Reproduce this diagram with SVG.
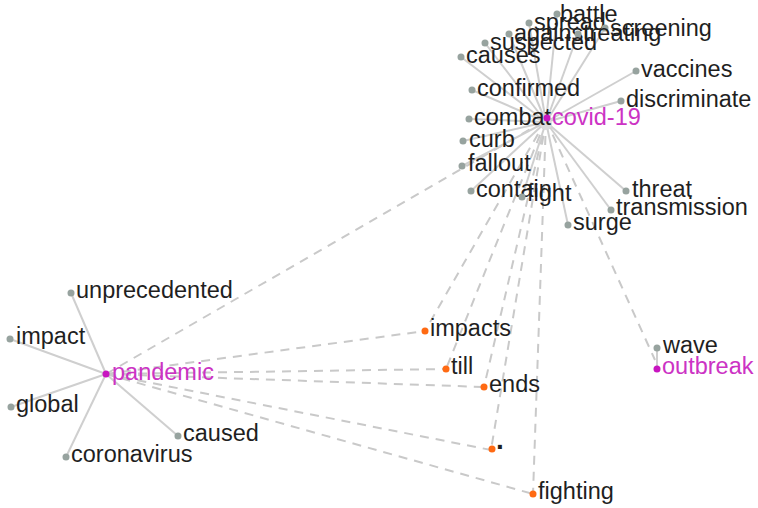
<svg xmlns="http://www.w3.org/2000/svg" width="758" height="508" viewBox="0 0 758 508">
<style>
text{font-family:"Liberation Sans",Arial,sans-serif;font-size:23.5px;fill:#1f1f1f;dominant-baseline:central}
.m{fill:#cc33c4}
.s{stroke:#cfcfcf;stroke-width:2;fill:none}
.d{stroke:#c9c9c9;stroke-width:2;fill:none;stroke-dasharray:9 7}
.g{fill:#97a39f}
.p{fill:#c815c0}
.o{fill:#ff6a13}
</style>
<rect width="758" height="508" fill="#fff"/>
<g id="connectors">
<line class="d" x1="106" y1="374" x2="546" y2="120"/>
<line class="d" x1="106" y1="374" x2="425" y2="331"/>
<line class="d" x1="106" y1="374" x2="446" y2="369"/>
<line class="d" x1="106" y1="374" x2="484" y2="387"/>
<line class="d" x1="106" y1="374" x2="491" y2="450"/>
<line class="d" x1="106" y1="374" x2="533" y2="494"/>
<line class="d" x1="546" y1="120" x2="425" y2="331"/>
<line class="d" x1="546" y1="120" x2="446" y2="369"/>
<line class="d" x1="546" y1="120" x2="484" y2="387"/>
<line class="d" x1="546" y1="120" x2="491" y2="450"/>
<line class="d" x1="546" y1="120" x2="533" y2="494"/>
<line class="d" x1="546" y1="120" x2="655" y2="360"/>
<line class="s" x1="657" y1="348" x2="657" y2="369"/>
<line class="s" x1="106" y1="374" x2="71" y2="293"/>
<line class="s" x1="106" y1="374" x2="10" y2="339"/>
<line class="s" x1="106" y1="374" x2="11" y2="407"/>
<line class="s" x1="106" y1="374" x2="178" y2="436"/>
<line class="s" x1="106" y1="374" x2="66" y2="457"/>
<line class="s" x1="546" y1="122" x2="557" y2="14"/>
<line class="s" x1="546" y1="122" x2="529" y2="23"/>
<line class="s" x1="546" y1="122" x2="509" y2="34"/>
<line class="s" x1="546" y1="122" x2="578" y2="34"/>
<line class="s" x1="546" y1="122" x2="605" y2="28"/>
<line class="s" x1="546" y1="122" x2="485" y2="43"/>
<line class="s" x1="546" y1="122" x2="461" y2="57"/>
<line class="s" x1="546" y1="122" x2="472" y2="90"/>
<line class="s" x1="546" y1="122" x2="636" y2="71"/>
<line class="s" x1="546" y1="122" x2="621" y2="101"/>
<line class="s" x1="546" y1="122" x2="469" y2="119"/>
<line class="s" x1="546" y1="122" x2="463" y2="141"/>
<line class="s" x1="546" y1="122" x2="462" y2="166"/>
<line class="s" x1="546" y1="122" x2="471" y2="191"/>
<line class="s" x1="546" y1="122" x2="522" y2="197"/>
<line class="s" x1="546" y1="122" x2="626" y2="191"/>
<line class="s" x1="546" y1="122" x2="611" y2="210"/>
<line class="s" x1="546" y1="122" x2="568" y2="225"/>
<circle cx="546" cy="124" r="6" fill="#dcdcdc"/>
</g>
<g id="n-battle"><circle class="g" cx="557" cy="14" r="3.5"/><text x="560" y="14">battle</text></g>
<g id="n-spread"><circle class="g" cx="529" cy="23" r="3.5"/><text x="534" y="22">spread</text></g>
<g id="n-screening"><circle class="g" cx="605" cy="28" r="3.5"/><text x="610" y="28">screening</text></g>
<g id="n-against"><circle class="g" cx="509" cy="34" r="3.5"/><text x="514" y="33">against</text></g>
<g id="n-treating"><circle class="g" cx="578" cy="34" r="3.5"/><text x="583" y="33">treating</text></g>
<g id="n-suspected"><circle class="g" cx="485" cy="43" r="3.5"/><text x="490" y="42">suspected</text></g>
<g id="n-causes"><circle class="g" cx="461" cy="57" r="3.5"/><text x="466" y="55">causes</text></g>
<g id="n-confirmed"><circle class="g" cx="472" cy="90" r="3.5"/><text x="477" y="88">confirmed</text></g>
<g id="n-vaccines"><circle class="g" cx="636" cy="71" r="3.5"/><text x="641" y="69">vaccines</text></g>
<g id="n-discriminate"><circle class="g" cx="621" cy="101" r="3.5"/><text x="626" y="99">discriminate</text></g>
<g id="n-combat"><circle class="g" cx="469" cy="119" r="3.5"/><text x="474" y="117">combat</text></g>
<g id="n-curb"><circle class="g" cx="463" cy="141" r="3.5"/><text x="469" y="139">curb</text></g>
<g id="n-fallout"><circle class="g" cx="462" cy="166" r="3.5"/><text x="468" y="163">fallout</text></g>
<g id="n-contain"><circle class="g" cx="471" cy="191" r="3.5"/><text x="476" y="189">contain</text></g>
<g id="n-fight"><circle class="g" cx="522" cy="197" r="3.5"/><text x="527" y="193">fight</text></g>
<g id="n-threat"><circle class="g" cx="626" cy="191" r="3.5"/><text x="632" y="189">threat</text></g>
<g id="n-transmission"><circle class="g" cx="611" cy="210" r="3.5"/><text x="616" y="207">transmission</text></g>
<g id="n-surge"><circle class="g" cx="568" cy="225" r="3.5"/><text x="573" y="222">surge</text></g>
<g id="n-covid19"><circle class="p" cx="547" cy="118" r="3.5"/><text class="m" x="552" y="117">covid-19</text></g>
<g id="n-unprecedented"><circle class="g" cx="71" cy="293" r="3.5"/><text x="76" y="290">unprecedented</text></g>
<g id="n-impact"><circle class="g" cx="10" cy="339" r="3.5"/><text x="16" y="336">impact</text></g>
<g id="n-global"><circle class="g" cx="11" cy="407" r="3.5"/><text x="16" y="404">global</text></g>
<g id="n-caused"><circle class="g" cx="178" cy="436" r="3.5"/><text x="183" y="433">caused</text></g>
<g id="n-coronavirus"><circle class="g" cx="66" cy="457" r="3.5"/><text x="71" y="454">coronavirus</text></g>
<g id="n-pandemic"><circle class="p" cx="106" cy="374" r="3.5"/><text class="m" x="112" y="372">pandemic</text></g>
<g id="n-impacts"><circle class="o" cx="425" cy="331" r="3.5"/><text x="430" y="328">impacts</text></g>
<g id="n-till"><circle class="o" cx="446" cy="369" r="3.5"/><text x="451" y="366">till</text></g>
<g id="n-ends"><circle class="o" cx="484" cy="387" r="3.5"/><text x="489" y="384">ends</text></g>
<g id="n-period"><circle class="o" cx="492" cy="449" r="3.5"/><text x="496" y="449" style="dominant-baseline:alphabetic;font-weight:bold;font-size:28px">.</text></g>
<g id="n-fighting"><circle class="o" cx="533" cy="494" r="3.5"/><text x="538" y="491">fighting</text></g>
<g id="n-wave"><circle class="g" cx="657" cy="348" r="3.5"/><text x="663" y="345">wave</text></g>
<g id="n-outbreak"><circle class="p" cx="657" cy="369" r="3.5"/><text class="m" x="662" y="366">outbreak</text></g>
</svg>
